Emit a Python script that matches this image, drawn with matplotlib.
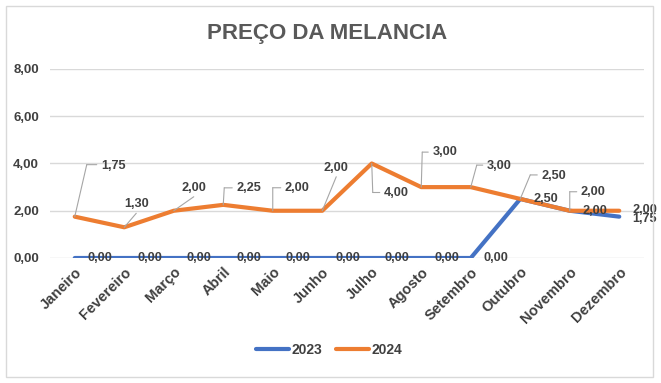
import matplotlib
matplotlib.use("Agg")
import matplotlib.pyplot as plt
from matplotlib.transforms import offset_copy
from matplotlib.patches import Rectangle

plt.rcParams['font.family'] = ['Liberation Sans', 'DejaVu Sans']

months = ["Janeiro", "Fevereiro", "Março", "Abril", "Maio", "Junho", "Julho",
          "Agosto", "Setembro", "Outubro", "Novembro", "Dezembro"]
v2023 = [0, 0, 0, 0, 0, 0, 0, 0, 0, 2.50, 2.00, 1.75]
v2024 = [1.75, 1.30, 2.00, 2.25, 2.00, 2.00, 4.00, 3.00, 3.00, 2.50, 2.00, 2.00]
yticks = [0, 2, 4, 6, 8]

c23 = "#4472C4"
c24 = "#ED7D31"
txt = "#404040"
lead = "#A6A6A6"

fig = plt.figure(figsize=(6.61, 3.83), dpi=100)
fig.patches.append(Rectangle((6/661, 6/383), 647/661, 371/383, transform=fig.transFigure,
                             fill=False, edgecolor="#D9D9D9", lw=1))
ax = fig.add_axes([50/661, (383-258)/383, 594/661, 189/383])

x = list(range(len(months)))
ax.plot(x, v2023, color=c23, lw=3, solid_capstyle='round', label="2023", zorder=3)
ax.plot(x, v2024, color=c24, lw=3, solid_capstyle='round', label="2024", zorder=3)

ax.set_xlim(-0.5, len(months) - 0.5)
ax.set_ylim(0, 8)
ax.set_yticks(yticks)
ax.set_yticklabels([f"{t:.2f}".replace('.', ',') for t in yticks],
                   fontsize=9.5, fontweight='bold', color=txt)
ax.set_xticks(x)
ax.set_xticklabels(months, rotation=45, ha='right', rotation_mode='anchor',
                   fontsize=10.5, fontweight='bold', color=txt)
ax.tick_params(axis='both', length=0, pad=8)
ax.tick_params(axis='x', pad=5)
ax.grid(axis='y', color="#D9D9D9", lw=1)
ax.set_axisbelow(True)
for s in ax.spines.values():
    s.set_visible(False)

fmt = lambda v: f"{v:.2f}".replace('.', ',')

# 2023 labels: to the right of each point
for i, v in enumerate(v2023):
    dy = -2 if i == 11 else 0
    ax.annotate(fmt(v), (i, v), xytext=(13, dy), textcoords='offset pixels',
                ha='left', va='center', fontsize=9.2, fontweight='bold', color=txt, zorder=5)

# 2024 labels with leader lines: (elbow dx, dy), (horizontal end dx) or None, label pos, alignment
leaders = [
    ((12, 52), 22, (26, 51), 'left'),
    ((12, 14), None, (12, 17), 'bottom'),
    ((20, 14), None, (20, 17), 'bottom'),
    ((1, 17), 9, (13, 17), 'left'),
    ((0, 23), 8, (12, 23), 'left'),
    ((14, 34), None, (14, 37), 'bottom'),
    ((1, -29), 8, (12, -30), 'left'),
    ((1, 35), 7, (11, 35), 'left'),
    ((6, 22), 12, (16, 21), 'left'),
    ((10, 24), 17, (21, 23), 'left'),
    ((0, 19), 7, (11, 19), 'left'),
    (None, None, (13, 1), 'left'),
]
for i, v in enumerate(v2024):
    elbow, hend, lpos, mode = leaders[i]
    if elbow is not None:
        ax.annotate('', xy=(i, v), xytext=elbow, textcoords='offset pixels',
                    arrowprops=dict(arrowstyle='-', color=lead, lw=0.8, shrinkA=0, shrinkB=0),
                    zorder=4)
        if hend is not None:
            tr = offset_copy(ax.transData, fig=fig, x=elbow[0], y=elbow[1], units='dots')
            ax.annotate('', xy=(i, v), xycoords=tr, xytext=(hend - elbow[0], 0),
                        textcoords='offset pixels',
                        arrowprops=dict(arrowstyle='-', color=lead, lw=0.8, shrinkA=0, shrinkB=0),
                        zorder=4)
    if mode == 'left':
        ax.annotate(fmt(v), (i, v), xytext=lpos, textcoords='offset pixels',
                    ha='left', va='center', fontsize=9.2, fontweight='bold', color=txt, zorder=5)
    else:
        ax.annotate(fmt(v), (i, v), xytext=lpos, textcoords='offset pixels',
                    ha='center', va='bottom', fontsize=9.2, fontweight='bold', color=txt, zorder=5)

fig.text(327/661, 1 - 34/383, "PREÇO DA MELANCIA", ha='center', va='center',
         fontsize=16, fontweight='bold', color="#595959")

leg = fig.legend(loc='center', bbox_to_anchor=(329/661, 1 - 350/383), ncol=2, frameon=False,
                 handlelength=2.4, handletextpad=0.15, columnspacing=1.0,
                 prop=dict(size=10, weight='bold'))
for t in leg.get_texts():
    t.set_color(txt)

fig.savefig("out.png", dpi=100)
